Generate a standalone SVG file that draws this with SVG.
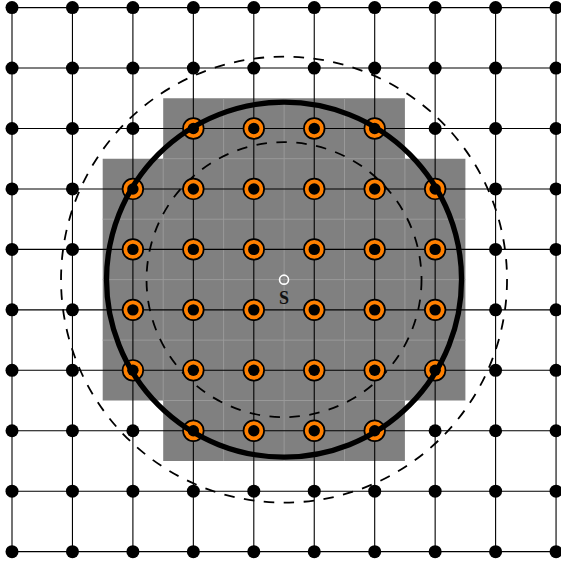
<svg xmlns="http://www.w3.org/2000/svg" xmlns:xlink="http://www.w3.org/1999/xlink" width="561" height="561" viewBox="0 0 561 561">
<style>
.grid{stroke:#000;stroke-width:1.1;fill:none}
.cell{stroke:#9c9c9c;stroke-width:0.9;fill:none}
.dash{stroke:#000;stroke-width:1.8;fill:none;stroke-dasharray:10.5 9.5}
.thick{stroke:#000;stroke-width:5.3;fill:none}
.lbl{font-family:"Liberation Serif","DejaVu Serif",serif;font-weight:bold;font-size:18px;text-anchor:middle;fill:#111}
</style>
<defs>
<circle id="b" r="6.5" fill="#000"/>
<g id="o"><circle r="10.3" fill="#ff8000" stroke="#000" stroke-width="1.7"/><circle r="5.7" fill="#000"/></g>
</defs>
<rect width="561" height="561" fill="#fff"/>
<g id="region">
<path d="M163.2 98.3H404.9V158.7H465.4V400.5H404.9V460.9H163.2V400.5H102.7V158.7H163.2Z" fill="#808080"/>
<path class="cell" d="M163.2 158.7H404.9M102.7 219.2H465.4M102.7 279.6H465.4M102.7 340.1H465.4M163.2 400.5H404.9M163.2 158.7V400.5M223.6 98.3V460.9M284.1 98.3V460.9M344.5 98.3V460.9M404.9 158.7V400.5"/>
</g>
<g id="connectors">
<path class="grid" d="M12 7.6V551.65M72.45 7.6V551.65M132.9 7.6V551.65M193.35 7.6V551.65M253.8 7.6V551.65M314.25 7.6V551.65M374.7 7.6V551.65M435.15 7.6V551.65M495.6 7.6V551.65M556.05 7.6V551.65M12 7.6H556.05M12 68.05H556.05M12 128.5H556.05M12 188.95H556.05M12 249.4H556.05M12 309.85H556.05M12 370.3H556.05M12 430.75H556.05M12 491.2H556.05M12 551.65H556.05"/>
</g>
<g id="rings">
<circle class="dash" cx="284.03" cy="279.63" r="223"/>
<circle class="dash" cx="284.03" cy="279.63" r="137.5"/>
</g>
<g id="nodes">
<use id="n0_0" xlink:href="#b" x="12" y="7.6"/><use id="n1_0" xlink:href="#b" x="72.45" y="7.6"/><use id="n2_0" xlink:href="#b" x="132.9" y="7.6"/><use id="n3_0" xlink:href="#b" x="193.35" y="7.6"/><use id="n4_0" xlink:href="#b" x="253.8" y="7.6"/><use id="n5_0" xlink:href="#b" x="314.25" y="7.6"/><use id="n6_0" xlink:href="#b" x="374.7" y="7.6"/><use id="n7_0" xlink:href="#b" x="435.15" y="7.6"/><use id="n8_0" xlink:href="#b" x="495.6" y="7.6"/><use id="n9_0" xlink:href="#b" x="556.05" y="7.6"/>
<use id="n0_1" xlink:href="#b" x="12" y="68.05"/><use id="n1_1" xlink:href="#b" x="72.45" y="68.05"/><use id="n2_1" xlink:href="#b" x="132.9" y="68.05"/><use id="n3_1" xlink:href="#b" x="193.35" y="68.05"/><use id="n4_1" xlink:href="#b" x="253.8" y="68.05"/><use id="n5_1" xlink:href="#b" x="314.25" y="68.05"/><use id="n6_1" xlink:href="#b" x="374.7" y="68.05"/><use id="n7_1" xlink:href="#b" x="435.15" y="68.05"/><use id="n8_1" xlink:href="#b" x="495.6" y="68.05"/><use id="n9_1" xlink:href="#b" x="556.05" y="68.05"/>
<use id="n0_2" xlink:href="#b" x="12" y="128.5"/><use id="n1_2" xlink:href="#b" x="72.45" y="128.5"/><use id="n2_2" xlink:href="#b" x="132.9" y="128.5"/><use id="n3_2" xlink:href="#o" x="193.35" y="128.5"/><use id="n4_2" xlink:href="#o" x="253.8" y="128.5"/><use id="n5_2" xlink:href="#o" x="314.25" y="128.5"/><use id="n6_2" xlink:href="#o" x="374.7" y="128.5"/><use id="n7_2" xlink:href="#b" x="435.15" y="128.5"/><use id="n8_2" xlink:href="#b" x="495.6" y="128.5"/><use id="n9_2" xlink:href="#b" x="556.05" y="128.5"/>
<use id="n0_3" xlink:href="#b" x="12" y="188.95"/><use id="n1_3" xlink:href="#b" x="72.45" y="188.95"/><use id="n2_3" xlink:href="#o" x="132.9" y="188.95"/><use id="n3_3" xlink:href="#o" x="193.35" y="188.95"/><use id="n4_3" xlink:href="#o" x="253.8" y="188.95"/><use id="n5_3" xlink:href="#o" x="314.25" y="188.95"/><use id="n6_3" xlink:href="#o" x="374.7" y="188.95"/><use id="n7_3" xlink:href="#o" x="435.15" y="188.95"/><use id="n8_3" xlink:href="#b" x="495.6" y="188.95"/><use id="n9_3" xlink:href="#b" x="556.05" y="188.95"/>
<use id="n0_4" xlink:href="#b" x="12" y="249.4"/><use id="n1_4" xlink:href="#b" x="72.45" y="249.4"/><use id="n2_4" xlink:href="#o" x="132.9" y="249.4"/><use id="n3_4" xlink:href="#o" x="193.35" y="249.4"/><use id="n4_4" xlink:href="#o" x="253.8" y="249.4"/><use id="n5_4" xlink:href="#o" x="314.25" y="249.4"/><use id="n6_4" xlink:href="#o" x="374.7" y="249.4"/><use id="n7_4" xlink:href="#o" x="435.15" y="249.4"/><use id="n8_4" xlink:href="#b" x="495.6" y="249.4"/><use id="n9_4" xlink:href="#b" x="556.05" y="249.4"/>
<use id="n0_5" xlink:href="#b" x="12" y="309.85"/><use id="n1_5" xlink:href="#b" x="72.45" y="309.85"/><use id="n2_5" xlink:href="#o" x="132.9" y="309.85"/><use id="n3_5" xlink:href="#o" x="193.35" y="309.85"/><use id="n4_5" xlink:href="#o" x="253.8" y="309.85"/><use id="n5_5" xlink:href="#o" x="314.25" y="309.85"/><use id="n6_5" xlink:href="#o" x="374.7" y="309.85"/><use id="n7_5" xlink:href="#o" x="435.15" y="309.85"/><use id="n8_5" xlink:href="#b" x="495.6" y="309.85"/><use id="n9_5" xlink:href="#b" x="556.05" y="309.85"/>
<use id="n0_6" xlink:href="#b" x="12" y="370.3"/><use id="n1_6" xlink:href="#b" x="72.45" y="370.3"/><use id="n2_6" xlink:href="#o" x="132.9" y="370.3"/><use id="n3_6" xlink:href="#o" x="193.35" y="370.3"/><use id="n4_6" xlink:href="#o" x="253.8" y="370.3"/><use id="n5_6" xlink:href="#o" x="314.25" y="370.3"/><use id="n6_6" xlink:href="#o" x="374.7" y="370.3"/><use id="n7_6" xlink:href="#o" x="435.15" y="370.3"/><use id="n8_6" xlink:href="#b" x="495.6" y="370.3"/><use id="n9_6" xlink:href="#b" x="556.05" y="370.3"/>
<use id="n0_7" xlink:href="#b" x="12" y="430.75"/><use id="n1_7" xlink:href="#b" x="72.45" y="430.75"/><use id="n2_7" xlink:href="#b" x="132.9" y="430.75"/><use id="n3_7" xlink:href="#o" x="193.35" y="430.75"/><use id="n4_7" xlink:href="#o" x="253.8" y="430.75"/><use id="n5_7" xlink:href="#o" x="314.25" y="430.75"/><use id="n6_7" xlink:href="#o" x="374.7" y="430.75"/><use id="n7_7" xlink:href="#b" x="435.15" y="430.75"/><use id="n8_7" xlink:href="#b" x="495.6" y="430.75"/><use id="n9_7" xlink:href="#b" x="556.05" y="430.75"/>
<use id="n0_8" xlink:href="#b" x="12" y="491.2"/><use id="n1_8" xlink:href="#b" x="72.45" y="491.2"/><use id="n2_8" xlink:href="#b" x="132.9" y="491.2"/><use id="n3_8" xlink:href="#b" x="193.35" y="491.2"/><use id="n4_8" xlink:href="#b" x="253.8" y="491.2"/><use id="n5_8" xlink:href="#b" x="314.25" y="491.2"/><use id="n6_8" xlink:href="#b" x="374.7" y="491.2"/><use id="n7_8" xlink:href="#b" x="435.15" y="491.2"/><use id="n8_8" xlink:href="#b" x="495.6" y="491.2"/><use id="n9_8" xlink:href="#b" x="556.05" y="491.2"/>
<use id="n0_9" xlink:href="#b" x="12" y="551.65"/><use id="n1_9" xlink:href="#b" x="72.45" y="551.65"/><use id="n2_9" xlink:href="#b" x="132.9" y="551.65"/><use id="n3_9" xlink:href="#b" x="193.35" y="551.65"/><use id="n4_9" xlink:href="#b" x="253.8" y="551.65"/><use id="n5_9" xlink:href="#b" x="314.25" y="551.65"/><use id="n6_9" xlink:href="#b" x="374.7" y="551.65"/><use id="n7_9" xlink:href="#b" x="435.15" y="551.65"/><use id="n8_9" xlink:href="#b" x="495.6" y="551.65"/><use id="n9_9" xlink:href="#b" x="556.05" y="551.65"/>
</g>
<g id="range">
<circle class="thick" cx="284.03" cy="279.63" r="177.5"/>
</g>
<g id="S">
<circle cx="284.03" cy="279.63" r="4.5" fill="none" stroke="#fff" stroke-width="1.6"/>
<text class="lbl" x="284.03" y="303.5">S</text>
</g>
</svg>
